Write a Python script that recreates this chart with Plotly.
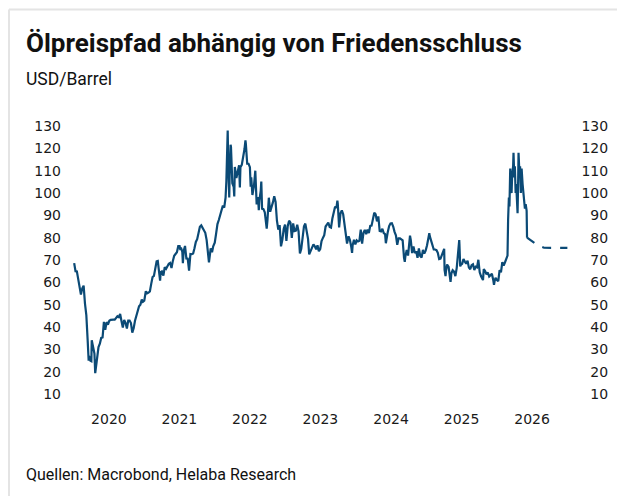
import plotly.graph_objects as go

# ---------------- data (Brent, USD/Barrel) ----------------
d2020 = ["01-03","01-10","01-17","01-24","01-31","02-07","02-14","02-21","02-28","03-06","03-13","03-18","03-20","03-27",
         "04-01","04-03","04-09","04-17","04-21","04-24","05-01","05-08","05-15","05-22","05-29","06-05","06-12","06-19","06-26",
         "07-03","07-10","07-17","07-24","07-31","08-07","08-14","08-21","08-28","09-04","09-11","09-18","09-25",
         "10-02","10-09","10-16","10-23","10-30","11-06","11-13","11-20","11-27","12-04","12-11","12-18","12-24","12-31"]
p2020 = [68.6,65.0,64.9,60.7,58.2,54.5,57.3,58.5,50.5,45.3,33.9,24.9,27.0,24.9,
         24.7,34.1,31.5,28.1,19.3,21.4,26.4,31.0,32.5,35.1,35.3,42.3,38.7,42.2,41.0,
         42.8,43.2,43.1,43.3,43.3,44.4,44.8,44.4,45.8,42.7,39.8,43.2,41.9,
         39.3,42.9,42.9,41.8,37.5,39.5,42.8,45.0,48.2,49.3,50.0,52.3,51.3,51.8]

d2021 = ["01-08","01-15","01-22","01-29","02-05","02-12","02-19","02-26","03-05","03-11","03-19","03-23","03-26","04-01","04-09",
         "04-16","04-23","04-30","05-07","05-14","05-21","05-28","06-04","06-11","06-18","06-25","07-02","07-06","07-09","07-16",
         "07-19","07-23","07-30","08-06","08-13","08-20","08-27","09-03","09-10","09-17","09-24","10-01","10-08","10-15",
         "10-22","10-29","11-05","11-12","11-19","11-26","12-01","12-10","12-17","12-23","12-31"]
p2021 = [56.0,55.1,55.4,55.9,59.3,62.4,62.9,66.1,69.4,69.6,64.5,60.8,64.6,64.9,63.0,
         66.8,66.1,67.3,68.3,68.7,66.4,69.6,71.9,72.7,73.5,76.2,76.2,74.5,75.6,73.6,
         68.6,74.1,76.3,70.7,70.6,65.2,72.7,72.6,72.9,75.3,78.1,79.3,82.4,84.9,
         85.5,84.4,82.7,82.2,78.9,72.7,68.9,75.2,73.5,76.1,77.8]

d2022 = ["01-07","01-14","01-21","01-28","02-04","02-11","02-18","02-25","03-01","03-04","03-08","03-11","03-16","03-18","03-23",
         "03-25","04-01","04-08","04-11","04-14","04-22","04-29","05-06","05-10","05-13","05-20","05-27","06-03","06-08","06-10",
         "06-17","06-24","07-01","07-05","07-08","07-14","07-22","07-29","08-05","08-12","08-16","08-19","08-26","08-29","09-02",
         "09-09","09-16","09-23","09-26","09-30","10-07","10-14","10-21","10-28","11-04","11-11","11-18","11-25","12-02","12-09",
         "12-16","12-23","12-30"]
p2022 = [81.8,86.1,87.9,90.0,93.3,94.4,93.5,97.9,105.0,118.1,128.0,112.7,98.0,107.9,121.6,
         120.7,104.4,102.8,98.5,111.7,106.7,109.3,112.4,102.5,111.6,112.6,115.6,119.7,123.6,122.0,
         113.1,113.1,111.6,102.8,107.0,99.1,103.2,110.0,94.9,98.2,92.3,96.7,101.0,105.1,93.0,
         92.8,91.4,86.2,84.1,88.0,97.9,91.6,93.5,95.8,98.6,96.0,87.6,83.6,85.6,76.1,
         79.0,83.9,85.9]

d2023 = ["01-06","01-13","01-20","01-27","02-03","02-10","02-17","02-24","03-03","03-10","03-17","03-24","03-31","04-07",
         "04-14","04-21","04-28","05-04","05-12","05-19","05-26","06-02","06-09","06-16","06-23","06-30","07-07","07-14",
         "07-21","07-28","08-04","08-11","08-18","08-25","09-01","09-08","09-15","09-22","09-27","09-29","10-06","10-13",
         "10-20","10-27","11-03","11-10","11-16","11-24","12-01","12-08","12-12","12-15","12-22","12-29"]
p2023 = [78.6,85.3,87.6,86.7,79.9,86.4,83.0,83.2,85.8,82.8,73.0,75.0,79.8,85.1,
         86.3,81.7,79.5,72.5,74.2,75.6,77.0,76.1,74.8,76.6,73.9,74.9,78.5,79.9,
         81.1,85.0,86.2,86.8,84.8,84.5,88.6,90.7,93.9,93.3,96.6,95.3,84.6,90.9,
         92.2,90.5,84.9,81.4,77.4,80.6,78.9,75.8,73.2,76.6,79.1,77.0]

d2024 = ["01-05","01-12","01-19","01-26","02-02","02-09","02-16","02-23","03-01","03-08","03-15","03-22","03-28","04-05",
         "04-12","04-19","04-26","05-03","05-10","05-17","05-24","05-31","06-04","06-07","06-14","06-21","06-28","07-05",
         "07-12","07-19","07-26","08-02","08-09","08-16","08-23","08-30","09-06","09-10","09-13","09-20","09-27","10-04",
         "10-07","10-11","10-18","10-25","11-01","11-08","11-15","11-22","11-29","12-06","12-13","12-20","12-27"]
p2024 = [78.8,78.3,78.6,83.6,77.3,82.2,83.5,81.6,83.6,82.1,85.3,85.4,87.5,91.2,
         90.5,87.3,89.5,83.0,82.8,84.0,82.1,81.6,77.5,79.6,82.6,85.2,86.4,86.5,
         85.0,82.6,81.1,76.8,79.7,79.7,79.0,78.8,71.1,69.2,71.6,74.5,72.0,78.1,
         80.9,79.0,73.1,76.1,73.1,73.9,71.0,75.2,71.8,71.1,74.5,72.9,74.2]

d2025 = ["01-03","01-10","01-15","01-17","01-24","01-31","02-07","02-14","02-21","02-28","03-07","03-14","03-21","03-28",
         "04-02","04-04","04-09","04-11","04-17","04-25","05-02","05-05","05-09","05-16","05-23","05-30","06-06","06-13",
         "06-19","06-20","06-24","06-27","07-04","07-11","07-18","07-25","08-01","08-08","08-15","08-22","08-29","09-05",
         "09-12","09-19","09-26","10-03","10-10","10-17","10-20","10-24","10-31","11-07","11-14","11-21","11-28","12-05",
         "12-12","12-16","12-19","12-24","12-31"]
p2025 = [76.5,79.8,82.0,80.8,78.5,76.8,74.7,74.7,74.4,73.2,70.4,70.6,72.2,73.6,
         75.0,65.6,62.8,64.8,68.0,66.9,61.3,60.2,63.9,65.4,64.8,62.8,66.5,74.2,
         78.9,77.0,67.1,67.8,68.3,70.4,69.3,68.4,69.7,66.6,65.9,67.7,68.1,65.5,
         67.0,66.7,70.1,64.5,62.7,61.3,61.0,65.9,65.1,63.6,64.4,62.6,63.2,63.8,
         61.1,58.9,60.5,62.0,61.0]

d2026 = ["01-07","01-14","01-21","01-28","02-04","02-11","02-18","02-24","02-27","03-03","03-06","03-10","03-13","03-17",
         "03-20","03-25","03-27","03-31","04-03","04-07","04-10","04-14","04-17","04-20","04-22","04-27","04-30","05-04",
         "05-08","05-13","05-19","05-25","05-29","06-03","06-05"]
p2026 = [60.5,65.5,64.5,69.0,67.5,69.0,70.5,72.0,88.0,98.0,94.0,111.0,103.0,100.0,
         108.0,112.0,118.0,107.0,112.0,100.0,104.0,95.0,91.0,105.0,118.0,108.0,112.0,100.0,
         111.0,104.0,97.0,93.0,95.0,92.0,80.0]

# forecast path (scenario)
fc_dates = ["2026-06-05","2026-07-01","2026-08-01","2026-09-01","2026-10-01","2026-12-31"]
fc_values = [80.0,78.5,76.5,75.5,75.4,75.4]

years = ["2020","2021","2022","2023","2024","2025","2026"]
y_ticks = [10,20,30,40,50,60,70,80,90,100,110,120,130]

# ---------------- build ----------------
hist_dates, hist_values = [], []
for yr, ds, ps in [("2020", d2020, p2020), ("2021", d2021, p2021), ("2022", d2022, p2022),
                   ("2023", d2023, p2023), ("2024", d2024, p2024), ("2025", d2025, p2025),
                   ("2026", d2026, p2026)]:
    hist_dates += [f"{yr}-{d}" for d in ds]
    hist_values += ps

BLUE = "#0b4a76"
fig = go.Figure()
fig.add_trace(go.Scatter(x=hist_dates, y=hist_values, mode="lines",
                         line=dict(color=BLUE, width=2.2), showlegend=False, hoverinfo="skip"))
fig.add_trace(go.Scatter(x=fc_dates, y=fc_values, mode="lines",
                         line=dict(color=BLUE, width=2.2, dash="dash"), showlegend=False, hoverinfo="skip"))
fig.add_trace(go.Scatter(x=fc_dates, y=fc_values, mode="lines", yaxis="y2",
                         line=dict(color="rgba(0,0,0,0)", width=0), showlegend=False, hoverinfo="skip"))

tickfont = dict(family="DejaVu Sans", size=14, color="#1a1a1a")
yrange = [7.31, 137.18]

OFF = 8  # page body margin
W, H = 625 - OFF, 496 - OFF
L, T = 62 - OFF, 110 - OFF
pw, ph = 550, 290
R = W - L - pw
B = H - T - ph


def px_x(x):
    return (x - OFF - L) / pw


def px_y(y):
    return (T + ph - (y - OFF)) / ph


border = dict(color="#e4e4e4", width=2)
fig.update_layout(
    width=W, height=H,
    margin=dict(l=L, r=R, t=T, b=B),
    paper_bgcolor="white", plot_bgcolor="white",
    xaxis=dict(type="date", range=["2019-11-01", "2027-08-19"],
               tickvals=[f"{y}-07-01" for y in years], ticktext=years,
               tickfont=tickfont, showgrid=False, zeroline=False, showline=False,
               ticks="outside", ticklen=6, tickcolor="rgba(0,0,0,0)"),
    yaxis=dict(range=yrange, tickvals=y_ticks, tickfont=tickfont,
               showgrid=False, zeroline=False, showline=False),
    yaxis2=dict(range=yrange, tickvals=y_ticks, tickfont=tickfont, overlaying="y",
                side="left", anchor="free", position=0.993,
                showgrid=False, zeroline=False, showline=False),
    shapes=[dict(type="line", xref="paper", yref="paper",
                 x0=px_x(9), x1=px_x(640), y0=px_y(9.5), y1=px_y(9.5), line=border, layer="below"),
            dict(type="line", xref="paper", yref="paper",
                 x0=px_x(9), x1=px_x(9), y0=px_y(9.5), y1=px_y(510), line=border, layer="below")],
    annotations=[
        dict(text="<b>Ölpreispfad abhängig von Friedensschluss</b>", xref="paper", yref="paper",
             x=px_x(24), y=px_y(43), xanchor="left", yanchor="middle", showarrow=False,
             font=dict(family="Roboto", size=26, color="#111111")),
        dict(text="USD/Barrel", xref="paper", yref="paper",
             x=px_x(24), y=px_y(79), xanchor="left", yanchor="middle", showarrow=False,
             font=dict(family="Roboto", size=17.5, color="#111111")),
        dict(text="Quellen: Macrobond, Helaba Research", xref="paper", yref="paper",
             x=px_x(24), y=px_y(474), xanchor="left", yanchor="middle", showarrow=False,
             font=dict(family="Roboto", size=16, color="#111111")),
    ],
)

fig.write_html("out.html")
